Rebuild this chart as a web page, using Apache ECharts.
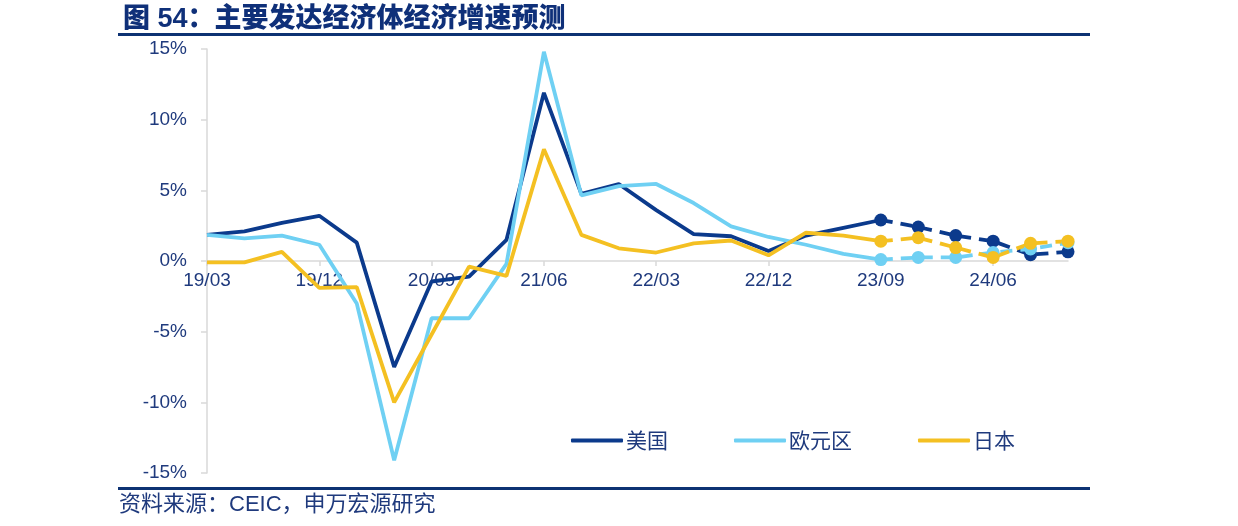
<!DOCTYPE html>
<html>
<head>
<meta charset="utf-8">
<script src="https://cdn.jsdelivr.net/npm/echarts@6/dist/echarts.min.js"></script>
<style>
  html, body { margin: 0; padding: 0; background: #fff; }
  #main { width: 1238px; height: 526px; }
</style>
</head>
<body>
<div id="main"></div>
<script>
// 季度
const quarters = ['19/03','19/06','19/09','19/12','20/03','20/06','20/09','20/12','21/03','21/06','21/09','21/12',
  '22/03','22/06','22/09','22/12','23/03','23/06','23/09','23/12','24/03','24/06','24/09','24/12'];

// 实际值 19/03 - 23/09
const usActual = [1.85, 2.1, 2.7, 3.2, 1.3, -7.5, -1.45, -1.1, 1.5, 11.9, 4.75, 5.45, 3.6, 1.9, 1.75, 0.7, 1.8, 2.35, 2.9];
const euActual = [1.85, 1.6, 1.8, 1.15, -3.0, -14.1, -4.05, -4.05, -0.2, 14.8, 4.65, 5.3, 5.45, 4.1, 2.45, 1.7, 1.15, 0.5, 0.1];
const jpActual = [-0.1, -0.1, 0.65, -1.9, -1.85, -10.0, -5.2, -0.4, -1.05, 7.9, 1.85, 0.9, 0.6, 1.25, 1.45, 0.4, 2.0, 1.8, 1.4];

// 预测值 23/09 - 24/12
const usForecast = [2.9, 2.4, 1.8, 1.4, 0.45, 0.65];
const euForecast = [0.1, 0.25, 0.25, 0.6, 0.85, 1.3];
const jpForecast = [1.4, 1.65, 0.95, 0.25, 1.25, 1.4];

const yTicks = { min: -15, max: 15, step: 5 };

const colors = { us: '#0b3a8c', eu: '#6fd0f3', jp: '#f4c022' };
const textColor = '#1f3a7d';

// 绘图区
const gridTop = 49, gridBottom = 53, chartH = 526;
// 横轴放在 0% 处
const zeroOffset = -(chartH - gridTop - gridBottom) * (0 - yTicks.min) / (yTicks.max - yTicks.min);

// 预测序列前面补空值, 与实际值在 23/09 相接
function padForecast(arr) {
  const lead = quarters.length - arr.length;
  return new Array(lead).fill(null).concat(arr);
}

function solidSeries(name, data, color) {
  return {
    name: name,
    type: 'line',
    data: data,
    showSymbol: false,
    symbol: 'none',
    lineStyle: { color: color, width: 3.8 },
    itemStyle: { color: color },
    z: 2
  };
}

function dashedSeries(name, data, color) {
  return {
    name: name,
    type: 'line',
    data: padForecast(data),
    symbol: 'circle',
    symbolSize: 13,
    showSymbol: true,
    lineStyle: { color: color, width: 3.8, type: [12, 8] },
    itemStyle: { color: color },
    z: 3
  };
}

const chart = echarts.init(document.getElementById('main'), null, { renderer: 'canvas' });

const option = {
  backgroundColor: '#fff',
  animation: false,
  title: {
    text: '图 54：主要发达经济体经济增速预测',
    left: 118,
    top: 1,
    textStyle: {
      fontFamily: '"Liberation Sans", "Noto Sans CJK SC", sans-serif',
      fontSize: 27,
      fontWeight: 900,
      color: '#0f3079'
    }
  },
  graphic: [
    { type: 'rect', shape: { x: 118, y: 33, width: 972, height: 3 }, style: { fill: '#0d3273' } },
    { type: 'rect', shape: { x: 118, y: 487, width: 972, height: 3 }, style: { fill: '#0d3273' } },
    {
      type: 'text', left: 119, top: 494,
      style: {
        text: '资料来源：CEIC，申万宏源研究',
        font: '22px "Liberation Sans", "Noto Sans CJK SC", sans-serif',
        fill: '#1f3a7d'
      }
    }
  ],
  legend: {
    data: ['美国', '欧元区', '日本'],
    left: 566,
    top: 425,
    icon: 'roundRect',
    itemWidth: 52,
    itemHeight: 4,
    itemGap: 66,
    textStyle: {
      fontFamily: '"Noto Sans CJK SC", sans-serif',
      fontSize: 21,
      color: textColor,
      padding: [0, 0, 0, -2]
    }
  },
  grid: { left: 207, right: 170, top: gridTop, bottom: gridBottom, containLabel: false },
  xAxis: {
    type: 'category',
    data: quarters,
    boundaryGap: false,
    offset: zeroOffset,
    axisLine: { onZero: false, lineStyle: { color: '#d9d9d9', width: 1.5 } },
    axisTick: { show: true, interval: 2, length: 5, inside: false, lineStyle: { color: '#d9d9d9', width: 1.5 } },
    axisLabel: {
      interval: 2,
      margin: 10,
      fontFamily: '"Liberation Sans", Arial, sans-serif',
      fontSize: 19,
      color: textColor
    },
    splitLine: { show: false }
  },
  yAxis: {
    type: 'value',
    min: yTicks.min,
    max: yTicks.max,
    interval: yTicks.step,
    axisLine: { show: true, lineStyle: { color: '#d9d9d9', width: 1.5 } },
    axisTick: { show: true, length: 6, lineStyle: { color: '#d9d9d9', width: 1.5 } },
    axisLabel: {
      formatter: '{value}%',
      margin: 20,
      fontFamily: '"Liberation Sans", Arial, sans-serif',
      fontSize: 19,
      color: textColor
    },
    splitLine: { show: false }
  },
  series: [
    solidSeries('美国', usActual, colors.us),
    solidSeries('欧元区', euActual, colors.eu),
    solidSeries('日本', jpActual, colors.jp),
    dashedSeries('美国预测', usForecast, colors.us),
    dashedSeries('欧元区预测', euForecast, colors.eu),
    dashedSeries('日本预测', jpForecast, colors.jp)
  ]
};

chart.setOption(option);
</script>
</body>
</html>
